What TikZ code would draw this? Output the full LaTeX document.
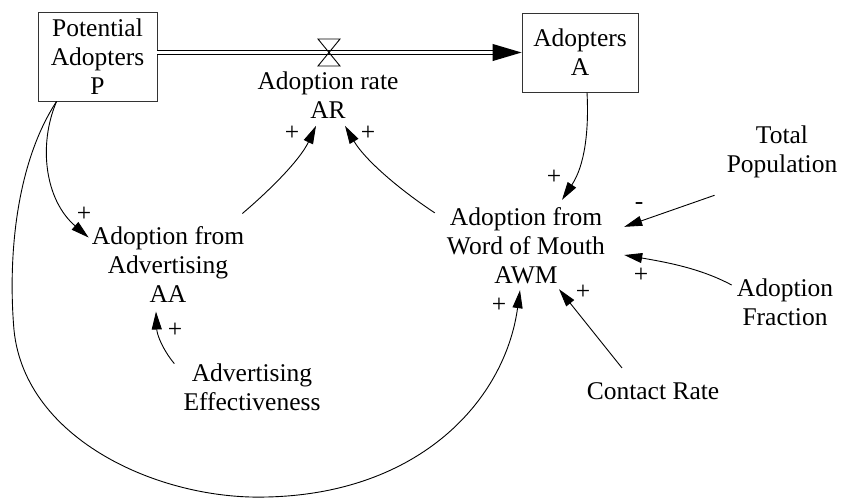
\documentclass[tikz,border=0pt]{standalone}
\usepackage{fontspec}
\setmainfont{Liberation Serif}
\usetikzlibrary{arrows.meta,calc}
\newcommand\lblfont{\fontsize{25.5}{29}\selectfont}

\begin{document}
\begin{tikzpicture}[x=1pt,y=-1pt,
  stock/.style={draw=black!80, line width=0.9pt, minimum width=119pt, minimum height=89pt,
                inner sep=0pt, align=center, font=\lblfont},
  var/.style={align=center, inner sep=0pt, font=\lblfont},
  sgn/.style={inner sep=0pt, font=\lblfont},
  link/.style={line width=0.9pt, -{Triangle[length=18pt,width=10pt]}},
  pipe/.style={double, double distance=2.6pt, line width=0.9pt},
  valvestyle/.style={line width=0.9pt}]
\useasboundingbox (0,0) rectangle (842,499);

% stocks
\node[stock] (P) at (97.5,56.5) {Potential\\Adopters\\P};
\node[stock, minimum width=116pt, minimum height=79pt] (A) at (580,52.5) {Adopters\\A};

% auxiliaries
\node[var] (AR)  at (328,95.3)  {Adoption rate\\AR};
\node[var] (AA)  at (168,264.3) {Adoption from\\Advertising\\AA};
\node[var] (AWM) at (526,245.8) {Adoption from\\Word of Mouth\\AWM};
\node[var] (TP)  at (782,151.5) {Total\\Population};
\node[var] (AF)  at (785,302.3) {Adoption\\Fraction};
\node[var] (AE)  at (252,387.3) {Advertising\\Effectiveness};
\node[var] (CR)  at (653,391.3) {Contact Rate};

% flow pipe with valve
\coordinate (V) at (329,52.5);
\draw[pipe] ($(P.east)+(0,-4)$) -- ($(A.west)+(-28,0)$);
\fill ($(A.west)+(-29,-8.6)$) -- (A.west) -- ($(A.west)+(-29,8.6)$) -- cycle;
\draw[valvestyle] ($(V)+(-11,-13.5)$) -- ($(V)+(11,-13.5)$) -- ($(V)+(-11,13.5)$)
  -- ($(V)+(11,13.5)$) -- cycle;

% causal links
\draw[link] ($(P.south west)+(19,0)$) .. controls (38,145) and (45,200) .. ($(AA.north west)+(-3,11.4)$);
\draw[link] ($(P.south west)+(19,0)$) .. controls (15,165) and (8,260) .. (14,330)
  .. controls (25,440) and (160,500) .. (266,497)
  .. controls (420,494) and (505,400) .. ($(AWM.south)+(-6,6)$);
\draw[link] ($(A.south)+(7,0)$) .. controls (589,130) and (585,165) .. ($(AWM.north)+(36,-7.6)$);
\draw[link] ($(AA.north east)+(-2,-12.6)$) .. controls (270,190) and (300,160) .. ($(AR.south)+(-12,7)$);
\draw[link] ($(AWM.north west)+(-12,5.4)$) .. controls (400,190) and (365,160) .. ($(AR.south)+(17,7)$);
\draw[link] ($(AE.north west)+(-9,0)$) .. controls (163,350) and (157,335) .. ($(AA.south)+(-12,9)$);
\draw[link] ($(TP.south west)+(-12,17.5)$) -- ($(AWM.north east)+(19,19.4)$);
\draw[link] ($(AF.west)+(-5,-17.3)$) .. controls (700,268) and (665,262) .. ($(AWM.east)+(19,9.2)$);
\draw[link] ($(CR.north)+(-31,-14.6)$) -- ($(AWM.south)+(33,5)$);

% polarity signs
\node[sgn] (sPA)  at (84,214)  {+};
\node[sgn] (sAAR) at (292,133) {+};
\node[sgn] (sWAR) at (368,133) {+};
\node[sgn] (sEA)  at (175,330) {+};
\node[sgn] (sAW)  at (554,177) {+};
\node[sgn] (sTW)  at (639,206) {-};
\node[sgn] (sFW)  at (641,275) {+};
\node[sgn] (sLW)  at (499,305) {+};
\node[sgn] (sCW)  at (583,292) {+};
\end{tikzpicture}
\end{document}
